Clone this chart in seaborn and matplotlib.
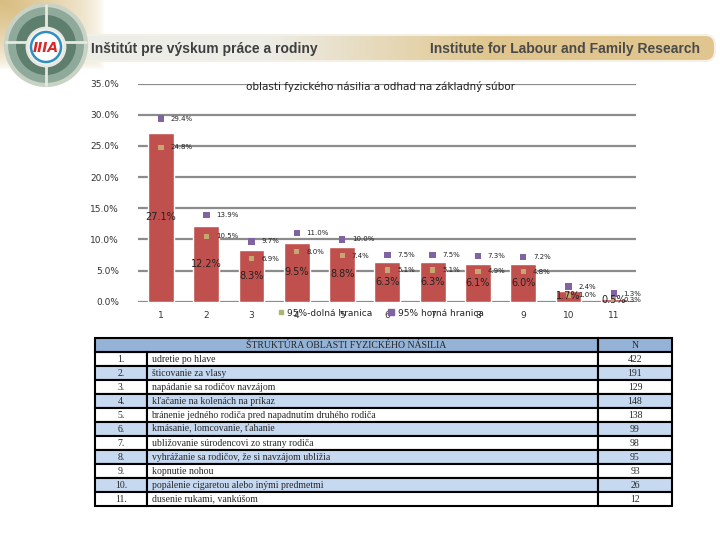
import numpy as np
import pandas as pd
import matplotlib
matplotlib.use("Agg")
import matplotlib.pyplot as plt
import seaborn as sns
from matplotlib.patches import Circle, FancyBboxPatch, Rectangle
from matplotlib.lines import Line2D

sns.set_theme(style="white")
plt.rcParams["font.family"] = ["DejaVu Sans"]

# data
categories = [str(i) for i in range(1, 12)]
share = [27.1, 12.2, 8.3, 9.5, 8.8, 6.3, 6.3, 6.1, 6.0, 1.7, 0.5]
lower = [24.8, 10.5, 6.9, 8.0, 7.4, 5.1, 5.1, 4.9, 4.8, 1.0, 0.3]
upper = [29.4, 13.9, 9.7, 11.0, 10.0, 7.5, 7.5, 7.3, 7.2, 2.4, 1.3]
row_nums = ["%d." % i for i in range(1, 12)]
items = [
    "udretie po hlave",
    "šticovanie za vlasy",
    "napádanie sa rodičov navzájom",
    "kľačanie na kolenách na príkaz",
    "bránenie jedného rodiča pred napadnutím druhého rodiča",
    "kmásanie, lomcovanie, ťahanie",
    "ubližovanie súrodencovi zo strany rodiča",
    "vyhrážanie sa rodičov, že si navzájom ublížia",
    "kopnutie nohou",
    "popálenie cigaretou alebo inými predmetmi",
    "dusenie rukami, vankúšom",
]
counts = [422, 191, 129, 148, 138, 99, 98, 95, 93, 26, 12]

df = pd.DataFrame({"cat": categories, "share": share, "lower": lower, "upper": upper})

BAR = "#C0504D"
LOW = "#C4A870"
UPP = "#8064A2"

fig = plt.figure(figsize=(7.2, 5.4), dpi=100)

#### header banner (background axes in pixel coords)
bg = fig.add_axes([0, 0, 1, 1], zorder=-5)
bg.set_xlim(0, 720)
bg.set_ylim(540, 0)
bg.axis("off")

# tan corner top-left
gx = np.linspace(0, 1, 120)
gy = np.linspace(0, 1, 90)
GX, GY = np.meshgrid(gx, gy)
alpha = np.clip(1 - np.maximum(GX * 1.15, GY * 1.3), 0, 1) ** 0.6
corner = np.zeros((90, 120, 4))
corner[..., 0] = 0.85
corner[..., 1] = 0.74
corner[..., 2] = 0.50
corner[..., 3] = alpha
bg.imshow(corner, extent=(0, 120, 90, 0), aspect="auto", zorder=0)

# band with gradient
band = FancyBboxPatch((70, 35), 645, 26, boxstyle="round,pad=0,rounding_size=10",
                      fc="none", ec="#F4F0E6", lw=1.5, zorder=3)
bg.add_patch(band)
t = np.linspace(0, 1, 300)
c0 = np.array([0.93, 0.93, 0.91])
c1 = np.array([0.88, 0.78, 0.56])
w = np.clip((t - 0.3) / 0.35, 0, 1)[:, None]
grad = (c0 * (1 - w) + c1 * w)[None, :, :]
im = bg.imshow(grad, extent=(70, 715, 61, 35), aspect="auto", zorder=2)
im.set_clip_path(band)
bg.text(91, 49, "Inštitút pre výskum práce a rodiny", fontsize=10, fontweight="bold",
        color="#3F3F3F", va="center", ha="left", family="Liberation Sans", zorder=4)
bg.text(700, 49, "Institute for Labour and Family Research", fontsize=10, fontweight="bold",
        color="#4A4A4A", va="center", ha="right", family="Liberation Sans", zorder=4)

# logo
bg.add_patch(Circle((46, 45), 40, fc="#8FA99A", ec="#C9D3C5", lw=3, zorder=3))
bg.add_patch(Circle((46, 45), 30, fc="#5E7F6E", ec="none", zorder=3))
bg.plot([46, 46], [5, 85], color="#E8E8E0", lw=2, zorder=3)
bg.plot([6, 86], [42, 42], color="#E8E8E0", lw=2, zorder=3)
bg.add_patch(Circle((46, 47), 19, fc="#F4F4F0", ec="#E8E8E0", lw=2, zorder=4))
bg.add_patch(Circle((46, 47), 15, fc="white", ec="#2F8FC0", lw=1.8, zorder=4))
bg.text(46, 48, "IIIA", fontsize=10, fontweight="bold", color="#D8282A",
        ha="center", va="center", style="italic", zorder=5)

#### chart
ax = fig.add_axes([138.4 / 720, 1 - 301.7 / 540, 498 / 720, 218 / 540])
sns.barplot(data=df, x="cat", y="share", color=BAR, saturation=1, width=0.57,
            ax=ax, zorder=3)
sns.scatterplot(data=df, x="cat", y="upper", marker="s", s=22, color=UPP,
                edgecolor="none", ax=ax, zorder=5)
sns.scatterplot(data=df, x="cat", y="lower", marker="s", s=14, color=LOW,
                edgecolor="none", ax=ax, zorder=5)

for i, v in enumerate(share):
    ax.text(i, v / 2, "%.1f%%" % v, ha="center", va="center", fontsize=7,
            color="#222222", zorder=6)
for i, v in enumerate(upper):
    ax.annotate("%.1f%%" % v, (i, v), xytext=(7, 0), textcoords="offset points",
                ha="left", va="center", fontsize=5, color="#222222", zorder=6)
for i, v in enumerate(lower):
    ax.annotate("%.1f%%" % v, (i, v), xytext=(7, 0), textcoords="offset points",
                ha="left", va="center", fontsize=5, color="#222222", zorder=6)

ax.set_ylim(0, 35)
ax.set_xlim(-0.5, 10.5)
ax.set_yticks(np.arange(0, 36, 5))
ax.set_yticklabels(["%.1f%%" % y for y in np.arange(0, 36, 5)], fontsize=6.5, color="#333333")
ax.tick_params(axis="x", labelsize=6.5, colors="#333333", pad=7, length=0)
ax.tick_params(axis="y", pad=14, length=0)
ax.yaxis.grid(True, color="#8C8C8C", lw=1.6, zorder=0)
ax.set_axisbelow(True)
for s in ax.spines.values():
    s.set_visible(False)
ax.set_xlabel("")
ax.set_ylabel("")
ax.set_title("")
fig.text(380 / 720, 1 - 87 / 540, "oblasti fyzického násilia a odhad na základný súbor",
         ha="center", va="center", fontsize=7.5, color="#222222")

handles = [
    Line2D([], [], marker="s", ls="none", color="#A8B870", markersize=2.5),
    Line2D([], [], marker="s", ls="none", color=UPP, markersize=4.5),
]
fig.legend(handles, ["95%-dolná hranica", "95% horná hranica"], ncol=2, frameon=False,
           loc="center", bbox_to_anchor=(380 / 720, 1 - 313 / 540), fontsize=6.5,
           handletextpad=0.2, columnspacing=1.6, handlelength=1)

#### table
tax = fig.add_axes([95 / 720, 1 - 506 / 540, 577 / 720, 168 / 540])
tax.axis("off")
cell_text = [["", "", "N"]] + [[r, it, str(n)] for r, it, n in zip(row_nums, items, counts)]
colors = [["#95B3D7"] * 3]
for k in range(11):
    colors.append(["white"] * 3 if k % 2 == 0 else ["#C6D9F1"] * 3)
tbl = tax.table(cellText=cell_text, cellColours=colors, colWidths=[52, 451, 74],
                bbox=[0, 0, 1, 1])
tbl.auto_set_font_size(False)
for (r, c), cell in tbl.get_celld().items():
    cell.set_edgecolor("black")
    cell.set_linewidth(1.5)
    txt = cell.get_text()
    txt.set_fontsize(7)
    txt.set_fontfamily("Liberation Serif")
    if c == 1:
        txt.set_ha("left")
        cell.PAD = 0.01
    else:
        txt.set_ha("center")
        cell._loc = "center"
    if r == 0 and c < 2:
        # header spans the first two columns
        cell.set_edgecolor("#95B3D7")
        cell.set_linewidth(0)
tax.add_patch(Rectangle((0, 11 / 12), 503 / 577, 1 / 12, transform=tax.transAxes,
                        fc="none", ec="black", lw=1.5, zorder=9, clip_on=False))
tax.text((52 + 451) / 2 / 577, 1 - 0.5 / 12, "ŠTRUKTÚRA OBLASTI FYZICKÉHO NÁSILIA",
         ha="center", va="center", fontsize=7, family="Liberation Serif",
         transform=tax.transAxes, zorder=10)

fig.savefig("out.png", dpi=100)
